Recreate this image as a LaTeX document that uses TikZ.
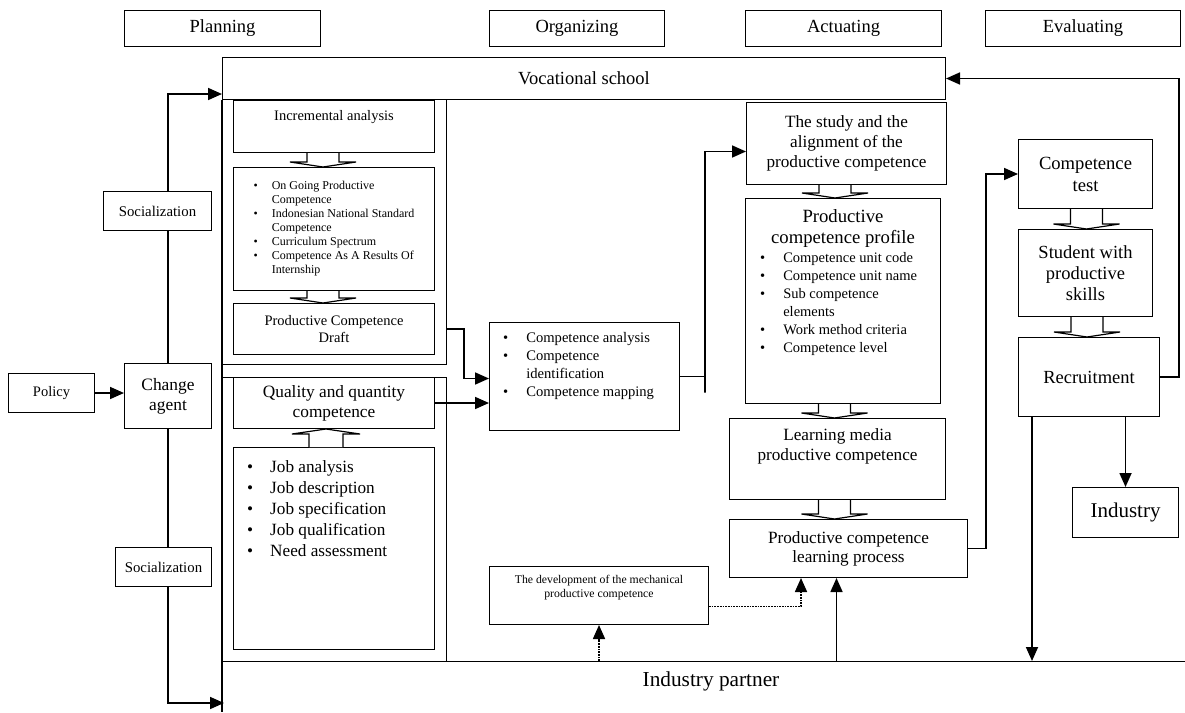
\documentclass[tikz,border=0pt]{standalone}
\usepackage{fontspec}
\setmainfont{Liberation Serif}
\usepackage{tikz}
\usetikzlibrary{arrows.meta,
    calc,
    positioning}

\newcommand{\fsz}[2]{\fontsize{#1}{#2}\selectfont}

\begin{document}
\begin{tikzpicture}[x=1pt, y=-1pt,
                  box/.style = {draw, line width=1pt, anchor=north west, inner sep=2pt, align=center},
                  frm/.style = {draw, line width=1pt, anchor=north west},
                  txt/.style = {inner sep=0pt, align=center},
                  lst/.style = {inner sep=0pt, anchor=north west},
                  arr/.style = {-{Triangle[length=14pt,width=12pt]}, line width=1.7pt},
                  ln/.style = {line width=1.7pt},
                  hollow/.style = {draw, fill=white, line width=1.2pt}
                  ]
\useasboundingbox (0,0) rectangle (1185,712);
% phases
\node[box, minimum width=196, minimum height=36, font={\fsz{18.5}{21}}] (plan) at (124,10) {Planning};
\node[box, minimum width=175, minimum height=36, font={\fsz{18.5}{21}}] (org) at (489,10) {Organizing};
\node[box, minimum width=196, minimum height=36, font={\fsz{18.5}{21}}] (act) at (745,10) {Actuating};
\node[box, minimum width=195, minimum height=36, font={\fsz{18.5}{21}}] (eva) at (985,10) {Evaluating};
\node[box, minimum width=723, minimum height=42, font={\fsz{18.5}{21}}] (voc) at (222,57) {Vocational school};
% left side
\node[box, minimum width=86, minimum height=39, font={\fsz{14.5}{17}}] (policy) at (8,373) {Policy};
\node[box, minimum width=87, minimum height=65, font={\fsz{17.4}{20}}] (change) at (124,363) {Change\\agent};
\node[box, minimum width=108, minimum height=39, font={\fsz{14.8}{17}}] (soc1) at (103,191) {Socialization};
\node[box, minimum width=96, minimum height=39, font={\fsz{14.8}{17}}] (soc2) at (115,547) {Socialization};
% planning
\node[frm, minimum width=224, minimum height=265] (planA) at (222,99) {};
\node[frm, minimum width=224, minimum height=284] (planB) at (222,377) {};
\node[box, minimum width=201, minimum height=52] (incr) at (233,100) {};
\node[txt, below=10pt of incr.north, font={\fsz{14.5}{17}}] (incr-t) {Incremental analysis};
\node[box, minimum width=201, minimum height=123, font={\fsz{12}{14}}] (ongo) at (233,167)
  {\begin{tabular}{@{}l@{\hspace{14pt}}l@{}}
   \textbullet & On Going Productive\\
               & Competence\\
   \textbullet & Indonesian National Standard\\
               & Competence\\
   \textbullet & Curriculum Spectrum\\
   \textbullet & Competence As A Results Of\\
               & Internship
   \end{tabular}};
\node[box, minimum width=201, minimum height=51, font={\fsz{14.5}{16.5}}] (draft) at (233,303) {Productive Competence\\Draft};
\node[box, minimum width=201, minimum height=51, font={\fsz{17.3}{20}}] (qual) at (233,377) {Quality and quantity\\competence};
\node[box, minimum width=201, minimum height=202] (job) at (233,447) {};
\node[lst, font={\fsz{17.2}{21}}] (job-l) at ([shift={(14,11)}]job.north west)
  {\begin{tabular}{@{}l@{\hspace{17pt}}l@{}}
   \textbullet & Job analysis\\
   \textbullet & Job description\\
   \textbullet & Job specification\\
   \textbullet & Job qualification\\
   \textbullet & Need assessment
   \end{tabular}};
% organizing
\node[box, minimum width=190, minimum height=108] (comp) at (489,322) {};
\node[lst, font={\fsz{14.6}{18}}] (comp-l) at ([shift={(14,8)}]comp.north west)
  {\begin{tabular}{@{}l@{\hspace{18pt}}l@{}}
   \textbullet & Competence analysis\\
   \textbullet & Competence\\
               & identification\\
   \textbullet & Competence mapping
   \end{tabular}};
\node[box, minimum width=219, minimum height=58] (dev) at (489,566) {};
\node[txt, below=9pt of dev.north, font={\fsz{11.75}{14}}] (dev-t) {The development of the mechanical\\productive competence};
% actuating
\node[box, minimum width=200, minimum height=82, font={\fsz{17.2}{20}}] (study) at (746,102) {The study and the\\alignment of the\\productive competence};
\node[box, minimum width=195, minimum height=205] (prof) at (745,198) {};
\node[txt, below=11pt of prof.north, font={\fsz{18.7}{21}}] (prof-t) {Productive\\competence profile};
\node[lst, font={\fsz{14.5}{18}}] (prof-l) at ([shift={(15,52)}]prof.north west)
  {\begin{tabular}{@{}l@{\hspace{18pt}}l@{}}
   \textbullet & Competence unit code\\
   \textbullet & Competence unit name\\
   \textbullet & Sub competence\\
               & elements\\
   \textbullet & Work method criteria\\
   \textbullet & Competence level
   \end{tabular}};
\node[box, minimum width=216, minimum height=81] (media) at (729,418) {};
\node[txt, below=10pt of media.north, font={\fsz{17.2}{20}}] (media-t) {Learning media\\productive competence};
\node[box, minimum width=238, minimum height=58, font={\fsz{17.2}{19}}] (proc) at (729,519) {Productive competence\\learning process};
% evaluating
\node[box, minimum width=134, minimum height=69, font={\fsz{18.6}{22}}] (test) at (1018,139) {Competence\\test};
\node[box, minimum width=134, minimum height=87, font={\fsz{18.5}{21}}] (stud) at (1018,229) {Student with\\productive\\skills};
\node[box, minimum width=141, minimum height=79, font={\fsz{18.5}{21}}] (recr) at (1018,337) {Recruitment};
\node[box, minimum width=106, minimum height=50, font={\fsz{21}{24}}] (ind) at (1072,487) {Industry};
% industry partner
\coordinate (ipA) at (222,661);
\coordinate (ipB) at (1185,661);
\coordinate (ipl) at (224,703);
\coordinate (frm-bot) at (222,712);
\draw[line width=1.2pt] (voc.south west) -- (frm-bot);
\draw[line width=1pt] (ipA) -- (ipB);
\node[font={\fsz{21.3}{24}}] (ip) at (711,681) {Industry partner};
% block arrows
\foreach \a/\b/\dx in {incr/ongo/-11, ongo/draft/-11, study/prof/-8, prof/media/-3,
                       media/proc/-14, test/stud/1, stud/recr/-2}
  \draw[hollow] let \p1=(\a.south), \p2=(\b.north) in
    (\x2+\dx pt-16pt,\y1) -- (\x2+\dx pt-16pt,\y2+5pt) -- (\x2+\dx pt-33pt,\y2+5pt)
    -- (\x2+\dx pt,\y2) -- (\x2+\dx pt+33pt,\y2+5pt) -- (\x2+\dx pt+16pt,\y2+5pt)
    -- (\x2+\dx pt+16pt,\y1);
\draw[hollow] let \p1=(job.north), \p2=(qual.south) in
    (\x2-25pt,\y1) -- (\x2-25pt,\y2-5pt) -- (\x2-42pt,\y2-5pt)
    -- (\x2-8pt,\y2) -- (\x2+26pt,\y2-5pt) -- (\x2+9pt,\y2-5pt) -- (\x2+9pt,\y1);
% connectors
\draw[arr] (policy.east) -- (policy.east -| change.west);
\draw[ln] (change.north) -- (change.north |- soc1.south);
\draw[arr] (change.north |- soc1.north) |- ([yshift=6pt]voc.south west);
\draw[ln] (change.south) -- (change.south |- soc2.north);
\draw[arr] (change.south |- soc2.south) |- (ipl);
\draw[arr] (draft.east -| planA.east) -- ++(17,0) |- ([yshift=-2pt]comp.west);
\draw[arr] (qual.east) -- (qual.east -| comp.west);
\draw[arr] (comp.east) -| ++(25,16) |- ([yshift=-8pt]study.west);
\draw[arr] (proc.east) -- ++(18,0) |- (test.west);
\draw[arr] (recr.east) -- ++(19,0) |- (voc.east);
\draw[arr] (ind.north |- recr.south) -- (ind.north);
\coordinate (r1) at ([xshift=14pt]recr.south west);
\draw[arr] (r1) -- (r1 |- ipA);
\coordinate (p1) at ([xshift=-12pt]proc.south);
\draw[arr] (p1 |- ipA) -- (p1);
\draw[arr, densely dotted] (dev.south |- ipA) -- (dev.south);
\coordinate (p2) at ([xshift=72pt]proc.south west);
\draw[arr, densely dotted] ([yshift=-11pt]dev.east) -| (p2);
\end{tikzpicture}
\end{document}
